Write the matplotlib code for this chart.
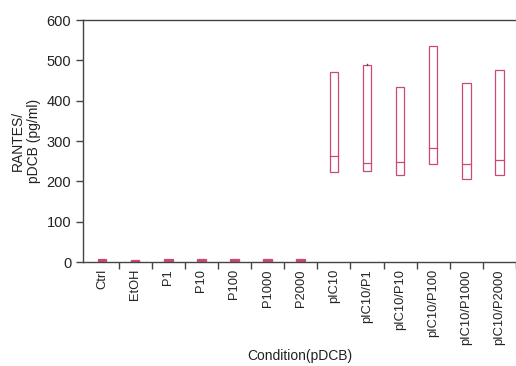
import numpy as np
import matplotlib.pyplot as plt
from matplotlib.patches import Rectangle

plt.rcParams['font.family'] = ['Liberation Sans', 'DejaVu Sans']

# data (pg/ml)
conditions = ['Ctrl', 'EtOH', 'P1', 'P10', 'P100', 'P1000', 'P2000',
              'pIC10', 'pIC10/P1', 'pIC10/P10', 'pIC10/P100',
              'pIC10/P1000', 'pIC10/P2000']
box_low = [2, 1, 2, 2, 2, 2, 2, 224, 226, 216, 243, 206, 216]
box_med = [5, 3, 5, 5, 5, 5, 5, 263, 245, 247, 284, 244, 254]
box_high = [8, 4, 8, 8, 8, 8, 8, 472, 488, 433, 537, 443, 476]
whisk_high = [8, 4, 8, 8, 8, 8, 8, 472, 492, 433, 537, 443, 476]

col = '#cc4a72'
box_w = 0.26

fig = plt.figure(figsize=(5.16, 3.66), dpi=100)
ax = fig.add_axes([0.161, 0.284, 0.839, 0.661])

for i in range(len(conditions)):
    lo, md, hi = box_low[i], box_med[i], box_high[i]
    ax.add_patch(Rectangle((i - box_w / 2, lo), box_w, hi - lo,
                           fill=(hi - lo < 20), facecolor=col, edgecolor=col, lw=0.9))
    ax.plot([i - box_w / 2, i + box_w / 2], [md, md], color=col, lw=0.9)
    if whisk_high[i] > hi:
        ax.plot([i, i], [hi, whisk_high[i]], color='#555555', lw=1.0)

ax.set_xlim(-0.57, 12.47)
ax.set_ylim(0, 600)
ax.set_yticks(np.arange(0, 601, 100))
ax.set_xticks(np.arange(len(conditions)))
ax.set_xticklabels(conditions, rotation=90)
ax.set_xticks(np.arange(len(conditions)) + 0.5, minor=True)
ax.tick_params(axis='x', which='major', length=0, pad=5, labelsize=9.3, colors='#222222')
ax.tick_params(axis='x', which='minor', length=5, width=1.0, color='#444444', direction='out')
ax.tick_params(axis='y', length=5, width=1.0, color='#444444', labelsize=10.5, labelcolor='#222222')

for s in ['left', 'bottom', 'top']:
    ax.spines[s].set_color('#444444')
    ax.spines[s].set_linewidth(1.0)
ax.spines['right'].set_visible(False)

ax.set_ylabel('RANTES/\npDCB (pg/ml)', fontsize=10, color='#222222', labelpad=4)
ax.set_xlabel('Condition(pDCB)', fontsize=10, color='#222222', labelpad=3)

plt.savefig('out.png', dpi=100)
